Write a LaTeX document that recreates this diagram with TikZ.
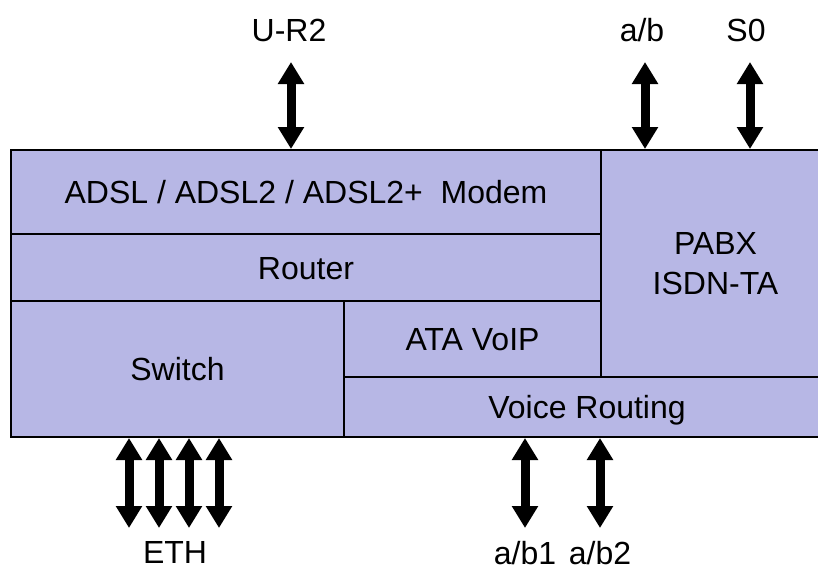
\documentclass[tikz,border=0pt]{standalone}
\usepackage{fontspec}
\setmainfont{Liberation Sans}
\usetikzlibrary{arrows.meta}
\definecolor{cellfill}{HTML}{B7B7E5}
\tikzset{
  cell/.style={draw=black, line width=2pt, fill=cellfill, inner sep=0pt,
    font=\fontsize{32}{40}\selectfont, align=center},
  oneline/.style={text height=23pt, text depth=0pt},
  lbl/.style={inner sep=0pt, font=\fontsize{32}{40}\selectfont, text height=23pt, text depth=0pt},
  biarrow/.style={line width=9pt, {Triangle[width=25pt,length=22pt]}-{Triangle[width=25pt,length=22pt]}}
}
\begin{document}
\begin{tikzpicture}[x=1pt,y=1pt]
\useasboundingbox (0,0) rectangle (818,-570);
\clip (0,0) rectangle (818,-570);
% functional blocks of the gateway
\node[cell, oneline, minimum width=590pt, minimum height=84pt]  (modem)  at (306,-192)   {ADSL / ADSL2 / ADSL2+\ \ Modem};
\node[cell, oneline, minimum width=590pt, minimum height=67pt]  (router) at (306,-267.5) {Router};
\node[cell, oneline, minimum width=333pt, minimum height=136pt] (switch) at (177.5,-369) {Switch};
\node[cell, oneline, minimum width=257pt, minimum height=76pt]  (ata)    at (472.5,-339) {ATA VoIP};
\node[cell, oneline, minimum width=486pt, minimum height=60pt]  (voice)  at (587,-407)   {Voice Routing};
\node[cell, minimum width=229pt, minimum height=227pt] (pabx)   at (715.5,-263.5) {PABX\\ISDN-TA};
% interface labels
\node[lbl] (lur2) at (289,-30)  {U-R2};
\node[lbl] (lab)  at (642,-30)  {a/b};
\node[lbl] (ls0)  at (746,-30)  {S0};
\node[lbl] (leth) at (175,-552) {ETH};
\node[lbl] (lab1) at (525,-553) {a/b1};
\node[lbl] (lab2) at (600,-553) {a/b2};
% free ends of the interface arrows
\coordinate (ur2) at (291,-62);
\coordinate (ab)  at (645,-62);
\coordinate (sz)  at (750,-62);
\coordinate (e1)  at (129,-528);
\coordinate (e2)  at (159,-528);
\coordinate (e3)  at (189,-528);
\coordinate (e4)  at (219,-528);
\coordinate (p1)  at (525,-528);
\coordinate (p2)  at (600,-528);
% interface arrows
\draw[biarrow] (ur2) -- (ur2 |- modem.north);
\draw[biarrow] (ab)  -- (ab |- pabx.north);
\draw[biarrow] (sz)  -- (sz |- pabx.north);
\draw[biarrow] (e1)  -- (e1 |- switch.south);
\draw[biarrow] (e2)  -- (e2 |- switch.south);
\draw[biarrow] (e3)  -- (e3 |- switch.south);
\draw[biarrow] (e4)  -- (e4 |- switch.south);
\draw[biarrow] (p1)  -- (p1 |- voice.south);
\draw[biarrow] (p2)  -- (p2 |- voice.south);
\end{tikzpicture}
\end{document}
